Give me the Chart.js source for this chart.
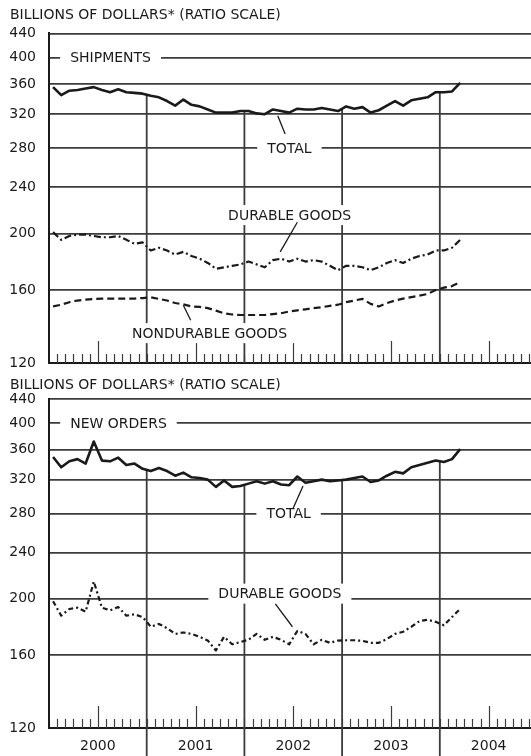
<!DOCTYPE html>
<html>
<head>
<meta charset="utf-8">
<script src="https://cdn.jsdelivr.net/npm/chart.js"></script>
<style>
  body { margin: 0; background: #fff; }
  canvas { display: block; }
</style>
</head>
<body>
<canvas id="shipChart" width="531" height="375"></canvas>
<canvas id="orderChart" width="531" height="381"></canvas>
<script>
const years = ['2000', '2001', '2002', '2003', '2004'];
const yTicks = [120, 160, 200, 240, 280, 320, 360, 400, 440];

// monthly, billions of dollars, Jan 2000 - Mar 2004
const shipTotal = [356, 345, 351, 352, 354, 356, 352, 349, 353, 349, 348, 347, 344, 342, 337, 331, 339, 332, 330, 326,
  322, 322, 322, 324, 324, 321, 320, 326, 324, 322, 327, 326, 326, 328, 326, 324, 330, 327, 329, 322,
  325, 331, 337, 331, 338, 340, 342, 349, 349, 350, 362];
const shipDurable = [201, 195, 198, 199, 199, 198, 197, 197, 198, 195, 192, 193, 187, 189, 187, 184, 186, 183, 181, 178,
  174, 175, 176, 177, 179, 177, 175, 180, 181, 179, 181, 179, 180, 179, 176, 173, 176, 176, 175, 173,
  175, 178, 180, 178, 181, 183, 184, 187, 187, 189, 195];
const shipNondurable = [150, 151, 152.5, 153.5, 154, 154.5, 154.7, 154.7, 154.7, 154.7, 154.7, 155, 155.5, 154.5, 153.5, 152, 151.2, 150, 149.7, 149,
  147.5, 146, 145.3, 145, 145, 145, 145, 145.5, 146, 147, 147.7, 148.3, 149, 149.5, 150.3, 151, 152.5, 153.5, 154.5, 151.5,
  150, 152, 153.5, 154.7, 155.6, 156.5, 157.5, 160, 161.5, 162.5, 165];
const orderTotal = [350, 336, 344, 347, 341, 372, 345, 344, 349, 339, 341, 334, 331, 335, 331, 325, 329, 323, 322, 320,
  311, 319, 311, 312, 315, 318, 315, 318, 314, 313, 324, 316, 318, 320, 318, 319, 320, 322, 324, 317,
  319, 325, 330, 328, 336, 339, 342, 345, 343, 347, 361];
const orderDurable = [198, 187, 192, 193, 190, 214, 193, 191, 193.5, 187, 188, 186, 179, 181, 178, 174, 175, 174, 172, 169.5,
  163, 172, 167, 168.5, 170, 174, 170, 172, 170, 167, 176, 174, 167, 170, 168, 169.5, 169.7, 169.7, 169.3, 168,
  168, 170.5, 174, 175.5, 179, 183, 184, 182.5, 180, 186, 192];

const ink = '#1a1a1a';
const gridInk = '#3c3c3c';
const font = '"DejaVu Sans", sans-serif';
const lastMonth = 59.2;

const toPoints = values => values.map((v, i) => ({ x: i + 0.5, y: v }));
const yearStarts = years.slice(1).map((_, i) => (i + 1) * 12);

// vertical year separators hang from the total line
const yearLines = {
  id: 'yearLines',
  beforeDatasetsDraw(chart, args, opts) {
    const { ctx, chartArea, scales: { x, y } } = chart;
    const data = chart.data.datasets[0].data;
    ctx.save();
    ctx.strokeStyle = gridInk;
    ctx.lineWidth = 1.8;
    yearStarts.forEach(m => {
      const v = Math.sqrt(data[m - 1].y * data[m].y);
      const px = x.getPixelForValue(m);
      ctx.beginPath();
      ctx.moveTo(px, y.getPixelForValue(v));
      ctx.lineTo(px, opts.toBottom ? chart.height : chartArea.bottom);
      ctx.stroke();
    });
    ctx.restore();
  }
};

const monthTicks = {
  id: 'monthTicks',
  beforeDatasetsDraw(chart) {
    const { ctx, chartArea, scales: { x } } = chart;
    ctx.save();
    ctx.strokeStyle = gridInk;
    ctx.lineWidth = 1.2;
    for (let m = 1; m < x.max; m++) {
      const px = Math.round(x.getPixelForValue(m)) + 0.5;
      const len = m % 12 === 6 ? 22 : 9;
      ctx.beginPath();
      ctx.moveTo(px, chartArea.bottom);
      ctx.lineTo(px, chartArea.bottom - len);
      ctx.stroke();
    }
    ctx.restore();
  }
};

const notes = {
  id: 'notes',
  afterDatasetsDraw(chart, args, opts) {
    const { ctx, scales: { x, y } } = chart;
    ctx.save();
    ctx.font = '14px ' + font;
    ctx.textBaseline = 'middle';
    opts.items.forEach(n => {
      const px = x.getPixelForValue(n.x);
      const py = y.getPixelForValue(n.y);
      const w = ctx.measureText(n.text).width;
      ctx.fillStyle = '#fff';
      ctx.fillRect(px - 10, py - 10, w + 20, 20);
      ctx.fillStyle = ink;
      ctx.fillText(n.text, px, py + 1);
      if (n.leader) {
        ctx.strokeStyle = ink;
        ctx.lineWidth = 1.3;
        ctx.beginPath();
        ctx.moveTo(x.getPixelForValue(n.leader[0][0]), y.getPixelForValue(n.leader[0][1]));
        ctx.lineTo(x.getPixelForValue(n.leader[1][0]), y.getPixelForValue(n.leader[1][1]));
        ctx.stroke();
      }
    });
    ctx.restore();
  }
};

function lineSet(values, width, dash) {
  return {
    data: toPoints(values),
    borderColor: ink,
    borderWidth: width,
    borderDash: dash,
    borderJoinStyle: 'round',
    pointRadius: 0,
    tension: 0,
    fill: false
  };
}

function makeChart(id, datasets, noteItems, cfg) {
  return new Chart(document.getElementById(id), {
    type: 'line',
    data: { datasets: datasets },
    plugins: [yearLines, monthTicks, notes],
    options: {
      responsive: false,
      animation: false,
      events: [],
      layout: { padding: { left: 10, right: 0, top: 0, bottom: 0 } },
      plugins: {
        legend: { display: false },
        tooltip: { enabled: false },
        title: {
          display: true,
          text: 'BILLIONS OF DOLLARS* (RATIO SCALE)',
          align: 'start',
          color: ink,
          font: { family: font, size: 14, weight: 'normal' },
          padding: cfg.titlePad
        },
        yearLines: { toBottom: cfg.showYears },
        notes: { items: noteItems }
      },
      scales: {
        x: {
          type: 'linear',
          min: 0,
          max: lastMonth,
          bounds: 'data',
          grid: { display: false, drawTicks: false },
          border: { display: true, color: ink, width: 2 },
          ticks: {
            display: cfg.showYears,
            color: ink,
            padding: 10,
            maxRotation: 0,
            font: { family: font, size: 14 },
            callback: v => years[(v - 6) / 12]
          },
          afterBuildTicks: s => { s.ticks = years.map((_, i) => ({ value: i * 12 + 6 })); },
          afterFit: s => { s.height = cfg.axisHeight; }
        },
        y: {
          type: 'logarithmic',
          min: 120,
          max: 440,
          bounds: 'data',
          grid: { color: gridInk, lineWidth: 1.8, drawTicks: false },
          border: { display: true, color: ink, width: 2 },
          ticks: {
            color: ink,
            padding: 13,
            font: { family: font, size: 14 },
            callback: v => String(v)
          },
          afterBuildTicks: s => { s.ticks = yTicks.map(v => ({ value: v })); },
          afterFit: s => {
            s.width = 39;
            s.paddingTop = 0;
            s.paddingBottom = 0;
          }
        }
      }
    }
  });
}

makeChart('shipChart', [
  lineSet(shipTotal, 2.6, []),
  lineSet(shipDurable, 2.2, [7, 3, 2, 3]),
  lineSet(shipNondurable, 2.2, [7, 4])
], [
  { text: 'SHIPMENTS', x: 2.6, y: 400 },
  { text: 'TOTAL', x: 26.8, y: 280, leader: [[28.1, 318], [29.0, 296]] },
  { text: 'DURABLE GOODS', x: 22.0, y: 215, leader: [[30.5, 209], [28.4, 186]] },
  { text: 'NONDURABLE GOODS', x: 10.2, y: 135, leader: [[16.5, 150.7], [17.4, 142]] }
], { axisHeight: 12, showYears: false, titlePad: { top: 6.6, bottom: 10 } });

makeChart('orderChart', [
  lineSet(orderTotal, 2.6, []),
  lineSet(orderDurable, 2.2, [5, 3, 2, 3])
], [
  { text: 'NEW ORDERS', x: 2.6, y: 400 },
  { text: 'TOTAL', x: 26.7, y: 280, leader: [[31.2, 312], [30.0, 286]] },
  { text: 'DURABLE GOODS', x: 20.8, y: 204, leader: [[27.8, 196], [29.9, 179]] }
], { axisHeight: 28, showYears: true, titlePad: { top: 1.6, bottom: 5.6 } });
</script>
</body>
</html>
